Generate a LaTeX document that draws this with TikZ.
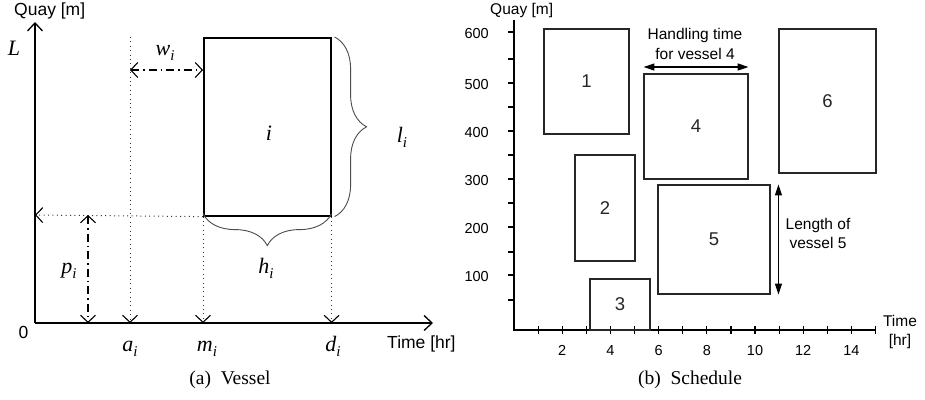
\documentclass[tikz,border=0pt]{standalone}
\usepackage{fontspec}
\setmainfont{Liberation Serif}
\setsansfont{Liberation Sans}
\usetikzlibrary{arrows.meta,decorations.pathreplacing}
\newcommand\mvar[2]{\textit{#1}\raisebox{-0.25em}{\fontsize{15}{15}\selectfont\textit{#2}}}
\begin{document}
\begin{tikzpicture}[x=1pt,y=-1pt,
  asans/.style={font=\fontsize{17.5}{20}\selectfont\sffamily},
  bsans/.style={font=\fontsize{15.5}{19.5}\selectfont\sffamily,align=center},
  num/.style={font=\fontsize{14.5}{17}\selectfont\sffamily},
  boxnum/.style={font=\fontsize{18.5}{20}\selectfont\sffamily},
  mth/.style={font=\fontsize{22}{24}\selectfont},
  captext/.style={font=\fontsize{19.5}{22}\selectfont},
  axisa/.style={line width=1.6pt},
  axisb/.style={line width=1.2pt},
  dotl/.style={line width=1pt,black!80,dash pattern=on 1pt off 3.4pt},
  dashdotl/.style={line width=1.1pt,dash pattern=on 8pt off 4pt on 1.5pt off 4pt},
  barb/.style={-{Straight Barb[length=7pt,width=15pt,line width=1.1pt,color=black]}},
  dbarb/.style={{Straight Barb[length=7pt,width=15pt,line width=1.1pt]}-{Straight Barb[length=7pt,width=15pt,line width=1.1pt]}},
  vbox/.style={draw,line width=1.6pt,inner sep=0pt},
  sbox/.style={draw,line width=1.1pt,black!85,inner sep=0pt,boxnum},
  brc/.style={decorate,decoration={brace,amplitude=32pt},line width=0.9pt,black!70},
  tri/.style={{Triangle[length=11pt,width=7pt]}-{Triangle[length=11pt,width=7pt]},line width=1.1pt},
  every node/.style={inner sep=0pt}
]
\useasboundingbox (0,0) rectangle (925,399);

% ---------- panel (a) ----------
\coordinate (ao) at (35,323);
\coordinate (atop) at (35,22);
\coordinate (aright) at (433,323);
\draw[axisa,-{Straight Barb[length=8pt,width=15pt,line width=1.3pt]}] (ao) -- (atop);
\draw[axisa,-{Straight Barb[length=8pt,width=15pt,line width=1.3pt]}] (ao) -- (aright);

\node[vbox,minimum width=127pt,minimum height=178pt,anchor=north west] (veh) at (203,37) {};
\node[mth,anchor=base] (ilab) at (269,140) {\textit{i}};

\coordinate (atopdot) at (130,37);
\coordinate (aax) at (130,323);
\coordinate (pleft) at (35,215);
\coordinate (ptop) at (88,215);
\coordinate (pbot) at (88,323);
\coordinate (wl) at (130,70);
\coordinate (wr) at (203,70);

\draw[dotl,barb] (atopdot) -- (aax);
\draw[dotl,barb] (veh.south west) -- (pleft);
\draw[dotl,barb] (veh.south west) -- (veh.south west |- ao);
\draw[dotl,barb] (veh.south east) -- (veh.south east |- ao);
\draw[dashdotl,dbarb] (wl) -- (wr);
\draw[dashdotl,dbarb] (ptop) -- (pbot);

\draw[brc] ([xshift=3pt]veh.north east) -- ([xshift=3pt]veh.south east);
\draw[brc] ([yshift=3pt]veh.south east) -- ([yshift=3pt]veh.south west);

\node[asans,anchor=base west] (quaya) at (14,15) {Quay [m]};
\node[mth,anchor=base] (Llab) at (14,55) {\textit{L}};
\node[mth,anchor=base] (wlab) at (165,55) {\mvar{w}{i}};
\node[mth,anchor=base] (llab) at (402,142) {\mvar{l}{i}};
\node[mth,anchor=base] (plab) at (69,273) {\mvar{p}{i}};
\node[mth,anchor=base] (hlab) at (266,273) {\mvar{h}{i}};
\node[mth,anchor=base] (alab) at (130,351) {\mvar{a}{i}};
\node[mth,anchor=base] (mlab) at (207,351) {\mvar{m}{i}};
\node[mth,anchor=base] (dlab) at (333,351) {\mvar{d}{i}};
\node[asans,anchor=base] (zero) at (23.5,338) {0};
\node[asans,anchor=base west] (timea) at (387,348) {Time [hr]};
\node[captext,anchor=base] (capa) at (230,384) {(a)\ \ Vessel};

% ---------- panel (b) ----------
\coordinate (bo) at (514,330);
\coordinate (btop) at (514,20);
\coordinate (bright) at (876,330);
\draw[axisb] (btop) -- (bo) -- (bright);
\foreach \yy in {32,59,83,107,131,155,179,203,227,252,275,300}
  \draw[axisb] (508,\yy) -- (514,\yy);
\foreach \t in {1,...,15}
  \draw[axisb] ({514+24.1*\t},326) -- ({514+24.1*\t},334);
\foreach \v/\yy in {600/32,500/83,400/131,300/179,200/227,100/275}
  \node[num,anchor=east] (yl\v) at (489,\yy+1.5) {\v};
\foreach \t in {2,4,...,14}
  \node[num,anchor=base] (xl\t) at ({514+24.1*\t},355.5) {\t};

\node[bsans,anchor=base west] (quayb) at (490,14) {Quay [m]};
\node[bsans,anchor=base] (timeb) at (900,326) {Time};
\node[bsans,anchor=base] (hrb) at (900,345) {[hr]};

\node[sbox,minimum width=85pt,minimum height=105pt] (b1) at (586.5,81.5) {1};
\node[sbox,minimum width=104pt,minimum height=105pt] (b4) at (696,126.5) {4};
\node[sbox,minimum width=97pt,minimum height=144pt] (b6) at (827.5,101) {6};
\node[sbox,minimum width=60pt,minimum height=106pt] (b2) at (605,208) {2};
\node[sbox,minimum width=112pt,minimum height=109pt] (b5) at (714,239.5) {5};
\node[sbox,minimum width=60pt,minimum height=51pt] (b3) at (620,304.5) {3};

\coordinate (hy) at (0,67);
\draw[tri] (b4.west |- hy) -- (b4.east |- hy);
\node[bsans,anchor=base] (ht1) at (695,39.5) {Handling time};
\node[bsans,anchor=base] (ht2) at (695,59) {for vessel 4};

\draw[tri] (b5.north -| b6.west) -- (b5.south -| b6.west);
\node[bsans,anchor=base] (lt1) at (818,229) {Length of};
\node[bsans,anchor=base] (lt2) at (818,248) {vessel 5};

\node[captext,anchor=base] (capb) at (690,384) {(b)\ \ Schedule};
\end{tikzpicture}
\end{document}
